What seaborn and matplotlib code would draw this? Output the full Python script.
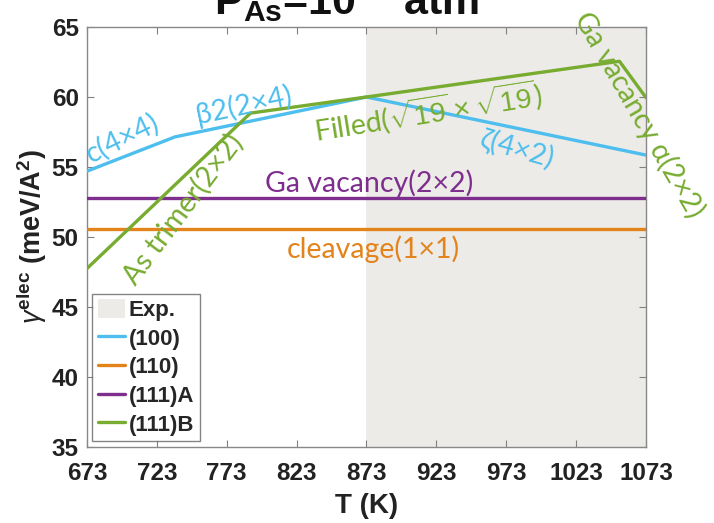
import numpy as np
import pandas as pd
import matplotlib
matplotlib.use("Agg")
import matplotlib.pyplot as plt
import seaborn as sns
from matplotlib.patches import Patch
from matplotlib.lines import Line2D

# ---- data ----
T_100 = [673, 736, 873, 1073]
g_100 = [54.7, 57.15, 60.0, 55.85]
T_110 = [673, 1073]
g_110 = [50.55, 50.55]
T_111A = [673, 1073]
g_111A = [52.8, 52.8]
T_111B = [673, 790, 873, 1054, 1073]
g_111B = [47.75, 58.85, 60.0, 62.55, 59.95]
exp_range = [873, 1073]
xticks = [673, 723, 773, 823, 873, 923, 973, 1023, 1073]
yticks = [35, 40, 45, 50, 55, 60, 65]
series = ["(100)", "(110)", "(111)A", "(111)B"]
colors = ["#4DBEEE", "#E3831C", "#7E2F8E", "#77AC30"]

df = pd.concat([
    pd.DataFrame({"T": T_100, "g": g_100, "s": "(100)"}),
    pd.DataFrame({"T": T_110, "g": g_110, "s": "(110)"}),
    pd.DataFrame({"T": T_111A, "g": g_111A, "s": "(111)A"}),
    pd.DataFrame({"T": T_111B, "g": g_111B, "s": "(111)B"}),
])

sns.set_style("ticks")
plt.rcParams["font.family"] = ["Liberation Sans", "DejaVu Sans"]
plt.rcParams["mathtext.fontset"] = "custom"
plt.rcParams["mathtext.rm"] = "Liberation Sans"
plt.rcParams["mathtext.it"] = "Liberation Sans:italic"
plt.rcParams["mathtext.bf"] = "Liberation Sans:bold"

fig = plt.figure(figsize=(7.14, 5.23), dpi=100)
ax = fig.add_axes([0.1218, 0.1453, 0.783, 0.8031])

ax.axvspan(exp_range[0], exp_range[1], color="#ECEBE8", lw=0, zorder=0)
sns.lineplot(data=df, x="T", y="g", hue="s", palette=dict(zip(series, colors)),
             hue_order=series, lw=2.4, legend=False, ax=ax, sort=False,
             estimator=None, zorder=3)

ax.set_xlim(673, 1073)
ax.set_ylim(35, 65)
ax.set_xticks(xticks)
ax.set_yticks(yticks)
ax.set_xticklabels([str(v) for v in xticks], fontsize=17.5, fontweight="bold")
ax.set_yticklabels([str(v) for v in yticks], fontsize=17.5, fontweight="bold")
ax.tick_params(direction="in", length=5, color="#808080", top=True, right=True,
               labelcolor="#222222", pad=6)
ax.tick_params(axis="x", pad=10.5)
for sp in ax.spines.values():
    sp.set_color("#888888")
    sp.set_linewidth(1.0)

ax.set_xlabel("T (K)", fontsize=20, fontweight="bold", color="#222222", labelpad=6)
ax.set_ylabel(r"$\gamma^{\mathbf{elec}}$ $\mathbf{(meV/A^2)}$", fontsize=19.5,
              color="#222222", labelpad=2)

afont = ["Lato", "DejaVu Sans"]
fs = 20.5
ax.text(698, 57.05, "c(4×4)", color=colors[0], fontsize=fs, rotation=26,
        ha="center", va="center", family=afont, zorder=4)
ax.text(785, 59.4, "β2(2×4)", color=colors[0], fontsize=fs, rotation=12,
        ha="center", va="center", family=afont, zorder=4)
ax.text(917, 58.9, r"Filled($\sqrt{19}\times\sqrt{19}$)", color=colors[3], fontsize=fs,
        rotation=9, ha="center", va="center", family=afont, zorder=4)
ax.text(981, 56.2, "ζ(4×2)", color=colors[0], fontsize=fs, rotation=-16,
        ha="center", va="center", family=afont, zorder=4)
ax.text(875, 53.85, "Ga vacancy(2×2)", color=colors[2], fontsize=fs,
        ha="center", va="center", family=afont, zorder=4)
ax.text(878, 49.1, "cleavage(1×1)", color=colors[1], fontsize=fs,
        ha="center", va="center", family=afont, zorder=4)
ax.text(742, 52.0, "As trimer(2×2)", color=colors[3], fontsize=fs, rotation=53,
        ha="center", va="center", family=afont, zorder=4)
ax.text(1068, 58.7, "Ga vacancy α(2×2)", color=colors[3], fontsize=fs, rotation=-60,
        ha="center", va="center", family=afont, zorder=4, clip_on=False)

handles = [Patch(facecolor="#ECEBE8", edgecolor="none", label="Exp.")]
for s, c in zip(series, colors):
    handles.append(Line2D([0], [0], color=c, lw=2.4, label=s))
leg = ax.legend(handles=handles, loc="lower left", bbox_to_anchor=(0.009, 0.014),
                prop={"weight": "bold", "size": 16}, frameon=True, fancybox=False,
                handlelength=1.25, handletextpad=0.15, borderpad=0.25, labelspacing=0.3,
                borderaxespad=0, handleheight=0.9)
leg.get_frame().set_edgecolor("#666666")
leg.get_frame().set_linewidth(1.0)

fig.text(0.485, 1 - 15 / 523, r"$\mathbf{P_{As}}$=10$^{\mathbf{-8}}$ atm", fontsize=31,
         fontweight="bold", ha="center", va="baseline", color="#111111")

fig.savefig("out.png", dpi=100)
